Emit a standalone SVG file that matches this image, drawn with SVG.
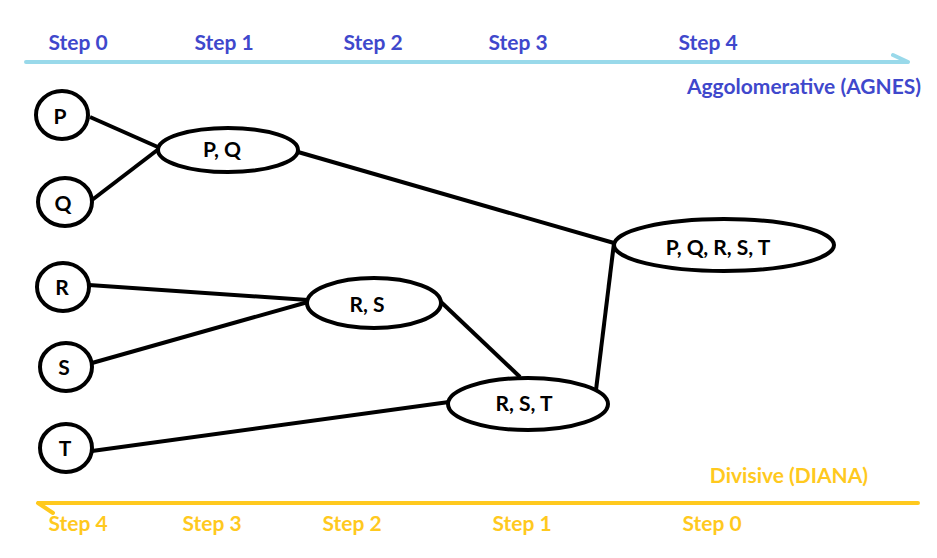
<svg xmlns="http://www.w3.org/2000/svg" width="937" height="558" viewBox="0 0 937 558">
<style>
.node{fill:#fff;stroke:#000;stroke-width:4}
.lbl{font-family:Lato,"Open Sans",sans-serif;font-weight:bold;font-size:21px;fill:#000;text-anchor:middle}
.blue{font-family:Lato,"Open Sans",sans-serif;font-weight:bold;font-size:21px;fill:#3f48cc;text-anchor:middle}
.yel{font-family:Lato,"Open Sans",sans-serif;font-weight:bold;font-size:21px;fill:#ffc91e;text-anchor:middle}
.edge{stroke:#000;stroke-width:4;fill:none}
</style>
<rect width="937" height="558" fill="#fff"/>
<g id="axis-agglomerative">
<path d="M26 62 H908 M893 55 L908 62" stroke="#99d9ea" stroke-width="4" fill="none" stroke-linecap="round"/>
<text class="blue" x="78" y="50">Step 0</text>
<text class="blue" x="224" y="50">Step 1</text>
<text class="blue" x="373" y="50">Step 2</text>
<text class="blue" x="518" y="50">Step 3</text>
<text class="blue" x="708" y="50">Step 4</text>
<text class="blue" x="804" y="94">Aggolomerative (AGNES)</text>
</g>
<g id="axis-divisive">
<path d="M38 503 H918 M38 503 L53 513" stroke="#ffc91e" stroke-width="4" fill="none" stroke-linecap="round"/>
<text class="yel" x="789" y="483">Divisive (DIANA)</text>
<text class="yel" x="78" y="531">Step 4</text>
<text class="yel" x="212" y="531">Step 3</text>
<text class="yel" x="352" y="531">Step 2</text>
<text class="yel" x="522" y="531">Step 1</text>
<text class="yel" x="712" y="531">Step 0</text>
</g>
<g id="connectors">
<line class="edge" x1="90" y1="117" x2="160" y2="148"/>
<line class="edge" x1="92" y1="200" x2="160" y2="148"/>
<line class="edge" x1="298" y1="152" x2="614" y2="243"/>
<line class="edge" x1="89" y1="285" x2="308" y2="300"/>
<line class="edge" x1="92" y1="363" x2="308" y2="302"/>
<line class="edge" x1="441" y1="302" x2="520" y2="377"/>
<line class="edge" x1="92" y1="451" x2="449" y2="402"/>
<line class="edge" x1="596" y1="390" x2="614" y2="243"/>
</g>
<g id="node-P"><ellipse class="node" cx="62" cy="115" rx="26" ry="24"/><text class="lbl" x="60" y="124">P</text></g>
<g id="node-Q"><ellipse class="node" cx="65" cy="202" rx="27" ry="24"/><text class="lbl" x="63" y="211">Q</text></g>
<g id="node-R"><ellipse class="node" cx="63" cy="287" rx="26" ry="24"/><text class="lbl" x="62" y="295">R</text></g>
<g id="node-S"><ellipse class="node" cx="66" cy="367" rx="26" ry="24"/><text class="lbl" x="64" y="375">S</text></g>
<g id="node-T"><ellipse class="node" cx="66" cy="448" rx="26" ry="24"/><text class="lbl" x="65" y="456">T</text></g>
<g id="node-PQ"><ellipse class="node" cx="228" cy="150" rx="70" ry="22"/><text class="lbl" x="222" y="157">P, Q</text></g>
<g id="node-RS"><ellipse class="node" cx="374" cy="303" rx="67" ry="25"/><text class="lbl" x="367" y="312">R, S</text></g>
<g id="node-RST"><ellipse class="node" cx="528" cy="404" rx="80" ry="26"/><text class="lbl" x="524" y="411">R, S, T</text></g>
<g id="node-PQRST"><ellipse class="node" cx="724" cy="245" rx="110" ry="26"/><text class="lbl" x="718" y="255">P, Q, R, S, T</text></g>
</svg>
